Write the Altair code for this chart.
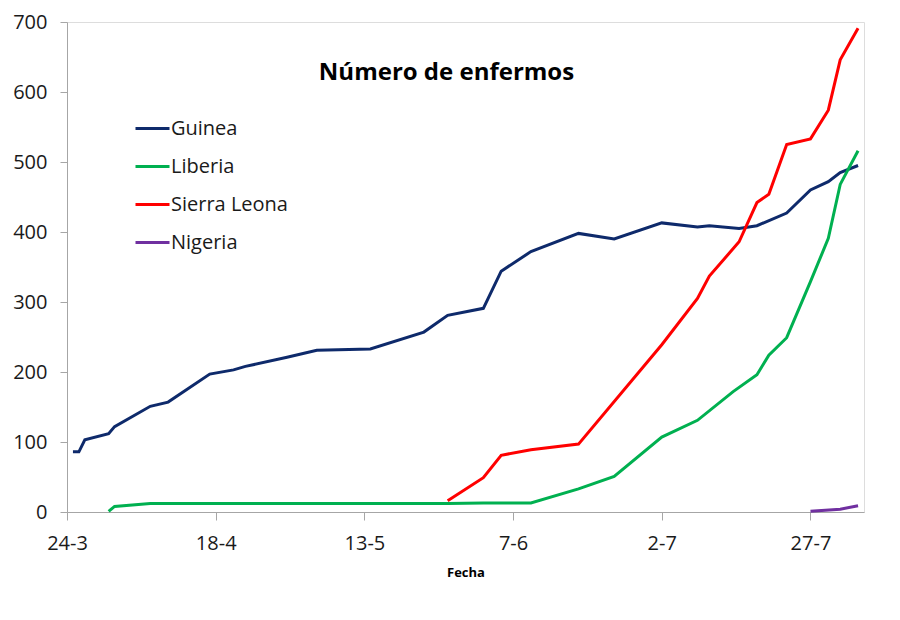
import altair as alt
import pandas as pd

# ---- data (2014) ----
guinea_dates = ["2014-03-25", "2014-03-26", "2014-03-27", "2014-03-31", "2014-04-01",
                "2014-04-07", "2014-04-10", "2014-04-17", "2014-04-21", "2014-04-23",
                "2014-04-30", "2014-05-05", "2014-05-14", "2014-05-23", "2014-05-27",
                "2014-06-02", "2014-06-05", "2014-06-10", "2014-06-18", "2014-06-24",
                "2014-07-02", "2014-07-08", "2014-07-10", "2014-07-15", "2014-07-18",
                "2014-07-23", "2014-07-27", "2014-07-30", "2014-08-01", "2014-08-04"]
guinea_values = [86, 86, 103, 112, 122, 151, 157, 197, 203, 208,
                 221, 231, 233, 257, 281, 291, 344, 372, 398, 390,
                 413, 407, 409, 405, 409, 427, 460, 472, 485, 495]

liberia_dates = ["2014-03-31", "2014-04-01", "2014-04-07", "2014-05-27", "2014-06-02",
                 "2014-06-10", "2014-06-18", "2014-06-24", "2014-07-02", "2014-07-08",
                 "2014-07-14", "2014-07-18", "2014-07-20", "2014-07-23", "2014-07-27",
                 "2014-07-30", "2014-08-01", "2014-08-04"]
liberia_values = [1, 8, 12, 12, 13, 13, 33, 51, 107, 131,
                  172, 196, 224, 249, 329, 391, 468, 516]

sierra_dates = ["2014-05-27", "2014-06-02", "2014-06-05", "2014-06-10", "2014-06-18",
                "2014-07-02", "2014-07-08", "2014-07-10", "2014-07-15", "2014-07-18",
                "2014-07-20", "2014-07-23", "2014-07-27", "2014-07-30", "2014-08-01",
                "2014-08-04"]
sierra_values = [16, 49, 81, 89, 97, 239, 305, 337, 386, 442,
                 454, 525, 533, 574, 646, 691]

nigeria_dates = ["2014-07-27", "2014-08-01", "2014-08-04"]
nigeria_values = [1, 4, 9]

countries = ["Guinea", "Liberia", "Sierra Leona", "Nigeria"]
colors = ["#0E2A6B", "#00B050", "#FF0000", "#7030A0"]

series = [(guinea_dates, guinea_values), (liberia_dates, liberia_values),
          (sierra_dates, sierra_values), (nigeria_dates, nigeria_values)]
rows = []
for name, (ds, vs) in zip(countries, series):
    for d, v in zip(ds, vs):
        rows.append({"fecha": d, "enfermos": v, "pais": name})
df = pd.DataFrame(rows)

FONT = "Open Sans"

tick_dates = [(3, 24), (4, 18), (5, 13), (6, 7), (7, 2), (7, 27)]
x_ticks = [alt.DateTime(year=2014, month=m, date=d, utc=True) for m, d in tick_dates]

chart = alt.Chart(df).mark_line(strokeWidth=3).encode(
    x=alt.X("fecha:T",
            scale=alt.Scale(type="utc",
                            domain=[alt.DateTime(year=2014, month=3, date=24, utc=True),
                                    alt.DateTime(year=2014, month=8, date=5, utc=True)]),
            axis=alt.Axis(values=x_ticks, format="%-d-%-m", title="Fecha",
                          labelFontSize=20, labelFont=FONT, labelColor="#1a1a1a",
                          titleFont=FONT, titleFontSize=13, titleFontWeight="bold",
                          titleColor="#000000", titlePadding=13,
                          tickSize=8, tickColor="#a6a6a6", domainColor="#a6a6a6",
                          labelPadding=13, grid=False, labelFlush=False)),
    y=alt.Y("enfermos:Q",
            scale=alt.Scale(domain=[0, 700], nice=False),
            axis=alt.Axis(values=[0, 100, 200, 300, 400, 500, 600, 700], title=None,
                          labelFontSize=20, labelFont=FONT, labelColor="#1a1a1a",
                          tickSize=7, tickColor="#a6a6a6", domainColor="#a6a6a6",
                          labelPadding=13, grid=False)),
    color=alt.Color("pais:N",
                    scale=alt.Scale(domain=countries, range=colors),
                    sort=countries,
                    legend=alt.Legend(title=None, orient="none", legendX=67, legendY=88,
                                      symbolType="stroke", symbolSize=1156,
                                      symbolStrokeWidth=3, labelFont=FONT,
                                      labelFontSize=20, labelColor="#1a1a1a",
                                      labelOffset=0, rowPadding=9)),
).properties(
    width=797,
    height=490,
    title=alt.TitleParams("Número de enfermos", font=FONT, fontSize=24,
                          fontWeight="bold", color="#000000", anchor="middle",
                          dx=-19, dy=77),
    autosize=alt.AutoSizeParams(type="none"),
    padding={"left": 67, "top": 22, "right": 36, "bottom": 86},
).configure_view(
    stroke="#404040", strokeWidth=1
).configure(background="white")

chart.save("out.html", embed_options={"renderer": "svg", "actions": False})
